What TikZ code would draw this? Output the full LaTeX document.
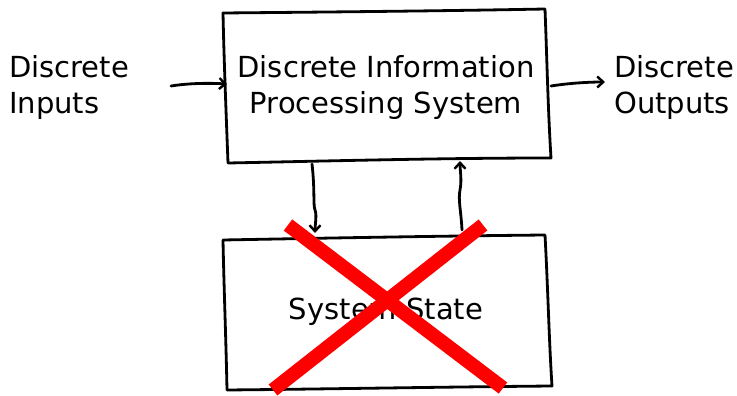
\documentclass[tikz,border=0pt]{standalone}
\usepackage{fontspec}
\setmainfont{DejaVu Sans}
\usetikzlibrary{arrows.meta}
\begin{document}
\begin{tikzpicture}[x=1pt,y=-1pt,
  sketch/.style={draw=black,line width=2.8pt,line join=round,line cap=round},
  flow/.style={sketch,-{Straight Barb[length=6pt,width=11pt,line width=2.4pt]}},
  lbl/.style={font=\fontsize{29}{36}\selectfont,align=left,inner sep=0pt},
  boxtxt/.style={font=\fontsize{29}{36}\selectfont,align=center,inner sep=0pt},
  cross/.style={draw={rgb,255:red,255;green,0;blue,0},line width=14pt,line cap=butt}]
\useasboundingbox (0,0) rectangle (737,396);

% hand-drawn outlines of the two boxes
\draw[sketch] (223,13) .. controls (330,12) and (440,11) .. (545,9)
  .. controls (547,60) and (548,110) .. (551,158)
  .. controls (440,158) and (330,161) .. (228,163)
  .. controls (226,110) and (224,60) .. cycle;
\draw[sketch] (223,240) .. controls (330,238) and (440,236) .. (545,235)
  .. controls (548,290) and (549,340) .. (552,386)
  .. controls (440,387) and (330,389) .. (227,390)
  .. controls (226,340) and (224,290) .. cycle;

% labels
\node[boxtxt] (dips) at (386,87) {Discrete Information\\Processing System};
\node[boxtxt] (state) at (386,312) {System State};
\node[lbl,anchor=west] (inp) at (9,87) {Discrete\\Inputs};
\node[lbl,anchor=west] (outp) at (614,87) {Discrete\\Outputs};

% connector end points
\coordinate (inS) at (171,86);
\coordinate (inE) at (227,84);
\coordinate (outS) at (551,86);
\coordinate (outE) at (605,82);
\coordinate (dnS) at (312,164);
\coordinate (dnE) at (315,233);
\coordinate (upS) at (462,230);
\coordinate (upE) at (460,161);

\draw[flow] (inS) .. controls (190,83) and (210,83) .. (inE);
\draw[flow] (outS) .. controls (570,83) and (590,82) .. (outE);
\draw[flow] (dnS) .. controls (315,190) and (313,205) .. (315,210) .. controls (317,215) and (315,225) .. (dnE);
\draw[flow] (upS) .. controls (461,210) and (458,200) .. (460,190) .. controls (462,180) and (460,170) .. (upE);

% red cross over the state box
\draw[cross] (288,225) -- (503,388);
\draw[cross] (483,225) -- (273,390);
\end{tikzpicture}
\end{document}
